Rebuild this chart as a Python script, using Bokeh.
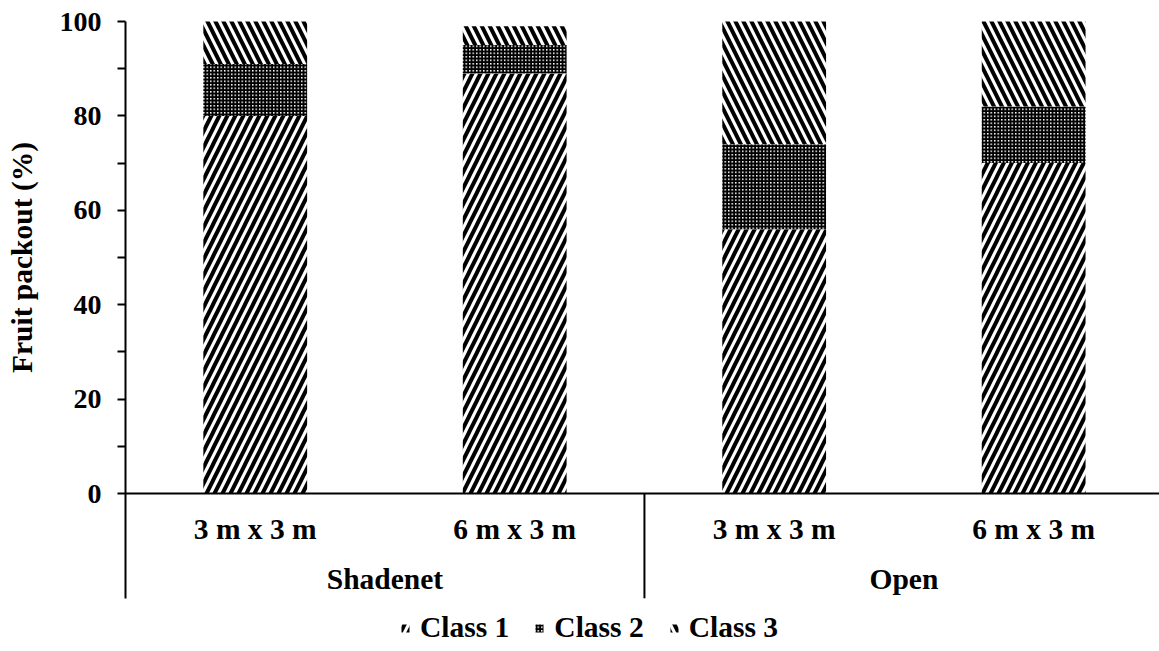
import math
from bokeh.plotting import figure
from bokeh.models import (Range1d, LinearAxis, FixedTicker, Legend, LegendItem)
from bokeh.core.properties import value
from bokeh.embed import file_html
from bokeh.resources import INLINE

# ---- data ----
groups = ["Shadenet", "Open"]
spacings = ["3 m x 3 m", "6 m x 3 m", "3 m x 3 m", "6 m x 3 m"]
class1 = [80, 89, 56, 70]
class2 = [11, 6, 18, 12]
class3 = [9, 4, 26, 18]
series_names = ["Class 1", "Class 2", "Class 3"]
y_ticks = [0, 20, 40, 60, 80, 100]
y_minor = [10, 30, 50, 70, 90]
y_title = "Fruit packout (%)"

FONT = "Liberation Serif"
FS_TICK = "28px"
FS = "29.5px"
YMIN = -22.2
XMAX = 3.985

xpos = [i + 0.5 for i in range(len(spacings))]
group_pos = [1.0, 3.0]
sep_pos = [2.0]

t1 = class1
t2 = [a + b for a, b in zip(t1, class2)]
t3 = [a + b for a, b in zip(t2, class3)]

p = figure(width=1159, height=651, output_backend="svg", toolbar_location=None,
           x_range=Range1d(-0.4817, XMAX), y_range=Range1d(-33.47, 104.45),
           min_border=0)
p.xaxis.visible = False
p.yaxis.visible = False
p.xgrid.visible = False
p.ygrid.visible = False
p.outline_line_color = None

def style_labels(ax, size):
    ax.major_label_text_font = FONT
    ax.major_label_text_font_style = "bold"
    ax.major_label_text_font_size = size
    ax.major_label_text_color = "black"

# y axis at x = 0
yax = LinearAxis(fixed_location=0, bounds=(YMIN, 100),
                 ticker=FixedTicker(ticks=y_ticks, minor_ticks=y_minor))
yax.axis_line_color = "black"
yax.axis_line_width = 2
yax.major_tick_in = 0
yax.major_tick_out = 8
yax.minor_tick_in = 0
yax.minor_tick_out = 8
yax.major_tick_line_width = 2
yax.minor_tick_line_width = 2
yax.major_label_standoff = 16
style_labels(yax, FS_TICK)
p.add_layout(yax, "left")

# x axis (spacing labels) at y = 0
xax = LinearAxis(fixed_location=0, bounds=(0, XMAX),
                 ticker=FixedTicker(ticks=xpos, minor_ticks=[]),
                 major_label_overrides={x: s for x, s in zip(xpos, spacings)})
xax.axis_line_color = "black"
xax.axis_line_width = 2
xax.major_tick_line_color = None
xax.minor_tick_line_color = None
xax.major_tick_out = 0
xax.major_tick_in = 0
xax.major_label_standoff = 19
style_labels(xax, FS)
p.add_layout(xax, "below")

# group labels
gax = LinearAxis(fixed_location=0, bounds=(0, XMAX),
                 ticker=FixedTicker(ticks=group_pos, minor_ticks=[]),
                 major_label_overrides={x: s for x, s in zip(group_pos, groups)})
gax.axis_line_color = None
gax.major_tick_line_color = None
gax.minor_tick_line_color = None
gax.major_tick_out = 0
gax.major_tick_in = 0
gax.major_label_standoff = 69
style_labels(gax, FS)
p.add_layout(gax, "below")

# group separator
p.segment(x0=sep_pos, y0=[0], x1=sep_pos, y1=[YMIN], line_color="black", line_width=2)

# y title
p.text(x=[-0.397], y=[50], text=[y_title], angle=math.pi / 2, text_align="center",
       text_baseline="middle", text_font=value(FONT), text_font_style="bold",
       text_font_size=FS, text_color="black")

W = 0.40
r1 = p.vbar(x=xpos, bottom=0, top=t1, width=W, fill_color="white", line_color=None,
            hatch_pattern="right_diagonal_line", hatch_color="black",
            hatch_scale=16, hatch_weight=4)
r2 = p.vbar(x=xpos, bottom=t1, top=t2, width=W, fill_color="white", line_color=None,
            hatch_pattern="cross", hatch_color="black",
            hatch_scale=3.5, hatch_weight=2.5)
r3 = p.vbar(x=xpos, bottom=t2, top=t3, width=W, fill_color="white", line_color=None,
            hatch_pattern="left_diagonal_line", hatch_color="black",
            hatch_scale=16, hatch_weight=4)

legend = Legend(items=[LegendItem(label=series_names[0], renderers=[r1]),
                       LegendItem(label=series_names[1], renderers=[r2]),
                       LegendItem(label=series_names[2], renderers=[r3])],
                orientation="horizontal", location=(400, 7))
legend.border_line_color = None
legend.background_fill_alpha = 0
legend.padding = 0
legend.margin = 0
legend.spacing = 25
legend.glyph_width = 10
legend.glyph_height = 10
legend.label_standoff = 10
legend.label_text_font = FONT
legend.label_text_font_style = "bold"
legend.label_text_font_size = FS
legend.label_text_color = "black"
p.add_layout(legend)

open("out.html", "w").write(file_html(p, INLINE))
